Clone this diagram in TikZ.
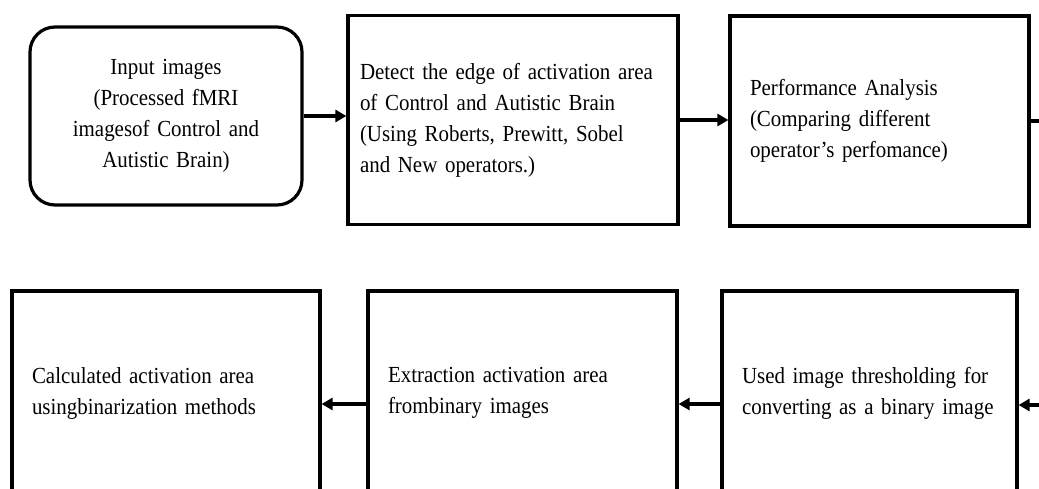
\documentclass[tikz,border=0pt]{standalone}
\usepackage{fontspec}
\setmainfont{Liberation Serif}[FakeStretch=0.91]
\usetikzlibrary{arrows.meta}
\begin{document}
\begin{tikzpicture}[x=1pt,y=-1pt,
  box/.style={draw,line width=3.2pt,inner xsep=20pt,inner ysep=0pt,align=left,
    font=\fontsize{23}{31}\selectfont},
  conn/.style={line width=3.5pt},
  arr/.style={line width=3.5pt,-{Triangle[length=11pt,width=12pt]}}]
\useasboundingbox (0,0) rectangle (1039,488);
\clip (0,0) rectangle (1039,488);
\node[box,rounded corners=25pt,align=center,minimum width=272pt,minimum height=178pt,text width=240pt,inner xsep=16pt] (b1) at (166,116)
  {Input images\\(Processed fMRI\\imagesof Control and\\Autistic Brain)};
\node[box,minimum width=330pt,minimum height=209pt,text width=306pt,inner xsep=12pt] (b2) at (513,120)
  {Detect the edge of activation area\\of Control and Autistic Brain\\(Using Roberts, Prewitt, Sobel\\and New operators.)};
\node[box,minimum width=299pt,minimum height=210pt,text width=259pt] (b3) at (879.5,121)
  {Performance Analysis\\(Comparing different\\operator's perfomance)};
\node[box,minimum width=308pt,minimum height=204pt,text width=268pt] (b4) at (166,393)
  {Calculated activation area\\usingbinarization methods};
\node[box,minimum width=309pt,minimum height=204pt,text width=269pt] (b5) at (522.5,393)
  {Extraction activation area\\frombinary images};
\node[box,minimum width=295pt,minimum height=204pt,text width=255pt] (b6) at (869.5,393)
  {Used image thresholding for\\converting as a binary image};
\coordinate (r1) at (1039,121);
\coordinate (r2) at (1039,405);
\draw[arr] (b1.east) -- (b1.east -| b2.west);
\draw[arr] (b2.east) -- (b2.east -| b3.west);
\draw[conn] (b3.east) -- (r1);
\draw[arr] (r2) -- (r2 -| b6.east);
\draw[arr] ([yshift=-11pt]b6.west) -- ([yshift=-11pt]b6.west -| b5.east);
\draw[arr] ([yshift=-11pt]b5.west) -- ([yshift=-11pt]b5.west -| b4.east);
\end{tikzpicture}
\end{document}
